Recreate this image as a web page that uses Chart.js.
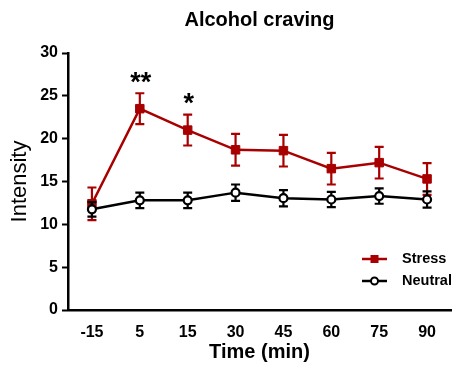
<!DOCTYPE html>
<html>
<head>
<meta charset="utf-8">
<script src="https://cdn.jsdelivr.net/npm/chart.js@4"></script>
<style>
  html, body { margin: 0; padding: 0; background: #fff; }
  #wrap { width: 458px; height: 366px; }
</style>
</head>
<body>
<div id="wrap"><canvas id="c" width="458" height="366"></canvas></div>
<script>
// Time points (min) relative to cue exposure
const timeLabels = ['-15', '5', '15', '30', '45', '60', '75', '90'];

// Mean craving intensity and SEM per condition
const stressMean = [12.4, 23.5, 21.0, 18.7, 18.6, 16.5, 17.2, 15.3];
const stressSem  = [1.9, 1.8, 1.8, 1.85, 1.85, 1.85, 1.85, 1.85];
const neutralMean = [11.75, 12.8, 12.8, 13.7, 13.05, 12.9, 13.3, 12.9];
const neutralSem  = [0.85, 0.9, 0.9, 0.95, 0.95, 0.9, 0.9, 0.95];

// Significance markers (stress vs neutral)
const sigLabels = ['', '**', '*', '', '', '', '', ''];

const yTicks = [0, 5, 10, 15, 20, 25, 30];

const RED = '#A80000';
const FONT = "'Liberation Sans', Arial, Helvetica, sans-serif";

// Error bars drawn underneath each dataset's line and markers
const errorBars = {
  id: 'errorBars',
  beforeDatasetDraw(chart, args) {
    const ds = chart.data.datasets[args.index];
    if (!ds.sem) return;
    const y = chart.scales.y;
    const ctx = chart.ctx;
    const cap = 4.5;
    ctx.save();
    ctx.strokeStyle = ds.borderColor;
    ctx.lineWidth = 2.2;
    args.meta.data.forEach((pt, i) => {
      const top = y.getPixelForValue(ds.data[i] + ds.sem[i]);
      const bot = y.getPixelForValue(ds.data[i] - ds.sem[i]);
      ctx.beginPath();
      ctx.moveTo(pt.x, top); ctx.lineTo(pt.x, bot);
      ctx.moveTo(pt.x - cap, top); ctx.lineTo(pt.x + cap, top);
      ctx.moveTo(pt.x - cap, bot); ctx.lineTo(pt.x + cap, bot);
      ctx.stroke();
    });
    ctx.restore();
  }
};

// Asterisks above the stress error bars
const sigMarks = {
  id: 'sigMarks',
  afterDatasetsDraw(chart) {
    const ctx = chart.ctx;
    const x = chart.scales.x, y = chart.scales.y;
    ctx.save();
    ctx.fillStyle = '#000';
    ctx.font = 'bold 27px ' + FONT;
    ctx.textAlign = 'center';
    ctx.textBaseline = 'alphabetic';
    sigLabels.forEach((s, i) => {
      if (!s) return;
      const px = x.getPixelForValue(i);
      const top = y.getPixelForValue(stressMean[i] + stressSem[i]);
      ctx.fillText(s, px + 1, top - 2.5);
    });
    ctx.restore();
  }
};

// Legend with line + marker swatches
const lineLegend = {
  id: 'lineLegend',
  afterDraw(chart) {
    const ctx = chart.ctx;
    const ca = chart.chartArea;
    const x0 = ca.right - 89, x1 = ca.right - 64, tx = ca.right - 49;
    const rows = [
      { label: 'Stress', color: RED, style: 'rect', y: ca.top + 206 },
      { label: 'Neutral', color: '#000', style: 'circle', y: ca.top + 228 }
    ];
    ctx.save();
    rows.forEach(r => {
      ctx.strokeStyle = r.color;
      ctx.lineWidth = 2.5;
      ctx.beginPath();
      ctx.moveTo(x0, r.y); ctx.lineTo(x1, r.y);
      ctx.stroke();
      const cx = (x0 + x1) / 2;
      if (r.style === 'rect') {
        ctx.fillStyle = r.color;
        ctx.fillRect(cx - 4, r.y - 4, 8, 8);
      } else {
        ctx.lineWidth = 2;
        ctx.fillStyle = '#fff';
        ctx.beginPath();
        ctx.arc(cx, r.y, 3.5, 0, Math.PI * 2);
        ctx.fill();
        ctx.stroke();
      }
      ctx.fillStyle = '#000';
      ctx.font = 'bold 14.5px ' + FONT;
      ctx.textAlign = 'left';
      ctx.textBaseline = 'middle';
      ctx.fillText(r.label, tx, r.y);
    });
    ctx.restore();
  }
};

new Chart(document.getElementById('c'), {
  type: 'line',
  data: {
    labels: timeLabels,
    datasets: [
      {
        label: 'Neutral',
        data: neutralMean,
        sem: neutralSem,
        borderColor: '#000',
        backgroundColor: '#fff',
        borderWidth: 2.5,
        pointStyle: 'circle',
        pointRadius: 4,
        pointBorderWidth: 2.2,
        pointBackgroundColor: '#fff',
        pointBorderColor: '#000',
        tension: 0,
        order: 0
      },
      {
        label: 'Stress',
        data: stressMean,
        sem: stressSem,
        borderColor: RED,
        backgroundColor: RED,
        borderWidth: 2.5,
        pointStyle: 'rect',
        pointRadius: 6,
        pointBorderWidth: 1,
        pointBackgroundColor: RED,
        pointBorderColor: RED,
        tension: 0,
        order: 1
      }
    ]
  },
  options: {
    responsive: false,
    animation: false,
    devicePixelRatio: 1,
    layout: { padding: { left: 0, right: 5, top: 0, bottom: 0 } },
    plugins: {
      legend: { display: false },
      tooltip: { enabled: false },
      title: {
        display: true,
        fullSize: false,
        text: 'Alcohol craving',
        color: '#000',
        font: { family: FONT, size: 20, weight: 'bold', lineHeight: 1.2 },
        padding: { top: 8, bottom: 21 }
      }
    },
    scales: {
      x: {
        type: 'category',
        offset: true,
        grid: { display: false, drawTicks: false },
        border: { display: true, color: '#000', width: 2.5 },
        ticks: {
          color: '#000',
          font: { family: FONT, size: 16, weight: 'bold' },
          padding: 13,
          maxRotation: 0,
          autoSkip: false
        },
        title: {
          display: true,
          text: 'Time (min)',
          color: '#000',
          font: { family: FONT, size: 20, weight: 'bold', lineHeight: 1.2 },
          padding: { top: 0, bottom: 2 }
        },
        afterFit(scale) { scale.height = 56; }
      },
      y: {
        min: 0,
        max: 30,
        afterBuildTicks(scale) { scale.ticks = yTicks.map(v => ({ value: v })); },
        grid: {
          display: true,
          drawOnChartArea: false,
          drawTicks: true,
          tickLength: 6,
          tickWidth: 2,
          tickColor: '#000'
        },
        border: { display: true, color: '#000', width: 2.5 },
        ticks: {
          color: '#000',
          font: { family: FONT, size: 16, weight: 'bold' },
          padding: 4
        },
        title: {
          display: true,
          text: 'Intensity',
          color: '#000',
          font: { family: FONT, size: 22, weight: 'normal', lineHeight: 1.2 },
          padding: { top: 7, bottom: 0 }
        },
        afterFit(scale) { scale.width = 68; }
      }
    }
  },
  plugins: [errorBars, sigMarks, lineLegend]
});
</script>
</body>
</html>
